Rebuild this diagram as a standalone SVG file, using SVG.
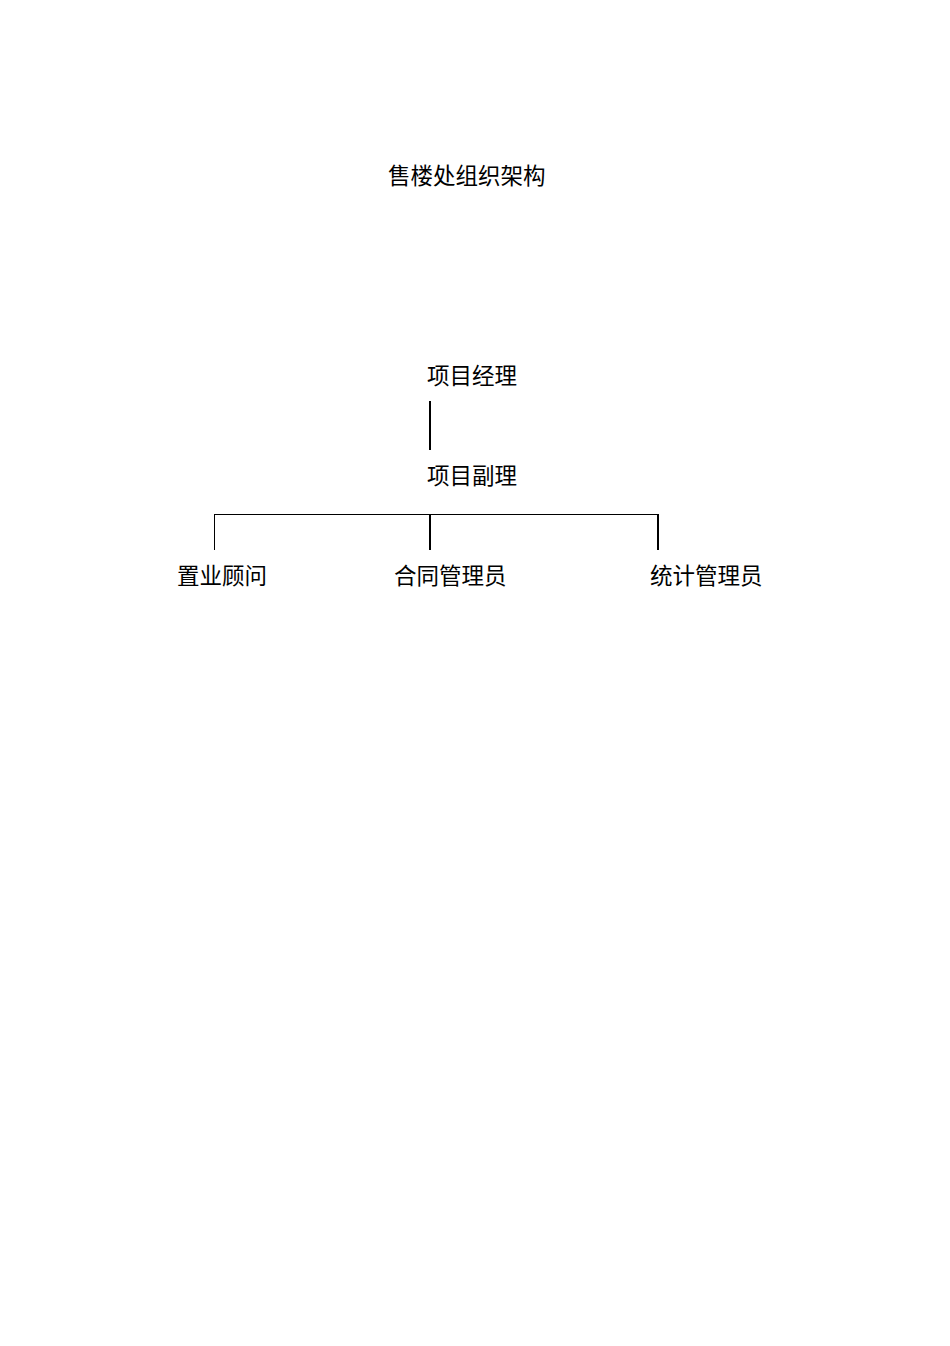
<svg xmlns="http://www.w3.org/2000/svg" width="950" height="1346" viewBox="0 0 950 1346">
<style>
text{font-family:"Noto Sans CJK SC","Noto Sans CJK JP",sans-serif;font-size:22.5px;fill:#000}
.thin{stroke:#000;stroke-width:1;fill:none}
.thick{stroke:#000;stroke-width:2;fill:none}
</style>
<rect width="950" height="1346" fill="#fff"/>
<g id="title"><text x="388" y="184">售楼处组织架构</text></g>
<g id="pm"><text x="427" y="384">项目经理</text></g>
<g id="dpm"><text x="427" y="484">项目副理</text></g>
<g id="consultant"><text x="177" y="584">置业顾问</text></g>
<g id="contract"><text x="394" y="584">合同管理员</text></g>
<g id="stats"><text x="650" y="584">统计管理员</text></g>
<g id="connectors">
<line class="thick" x1="430" y1="401" x2="430" y2="450"/>
<line class="thin" x1="214" y1="514.5" x2="659" y2="514.5"/>
<line class="thin" x1="214.5" y1="514" x2="214.5" y2="550"/>
<line class="thick" x1="430" y1="514" x2="430" y2="550"/>
<line class="thick" x1="658" y1="514" x2="658" y2="550"/>
</g>
</svg>
